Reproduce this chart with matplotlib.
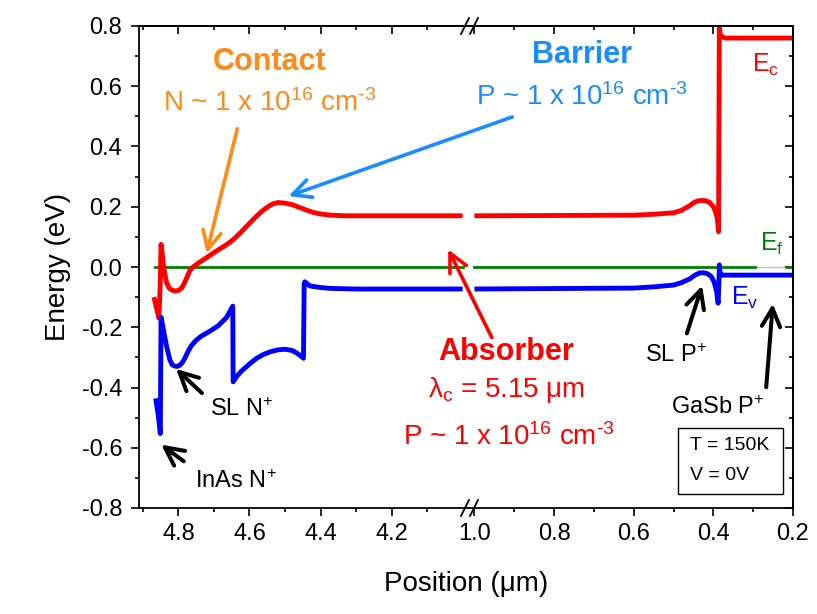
import numpy as np
import matplotlib
matplotlib.use("Agg")
import matplotlib.pyplot as plt
from matplotlib.patches import FancyArrowPatch, Rectangle
from matplotlib.lines import Line2D
from matplotlib.ticker import MultipleLocator, FixedLocator, NullFormatter, FuncFormatter

plt.rcParams['font.family'] = ['Liberation Sans', 'DejaVu Sans']
plt.rcParams['mathtext.fontset'] = 'custom'
plt.rcParams['mathtext.rm'] = 'Liberation Sans'
plt.rcParams['mathtext.default'] = 'regular'
plt.rcParams['axes.unicode_minus'] = False

# band edges near the contact side (position in um, energy in eV)
x_ec_left = [4.869, 4.862, 4.855, 4.851, 4.849, 4.846, 4.843, 4.838, 4.833, 4.826, 4.819,
             4.81, 4.80, 4.791, 4.784, 4.777, 4.768, 4.759, 4.739, 4.718, 4.697, 4.67, 4.655,
             4.641, 4.625, 4.60, 4.585, 4.565, 4.548, 4.535, 4.52, 4.50, 4.48, 4.46, 4.44,
             4.42, 4.40, 4.37, 4.33, 4.2, 4.0]
ec_left = [-0.10, -0.135, -0.17, -0.05, 0.075, 0.05, 0.013, -0.025, -0.053, -0.07, -0.076,
           -0.08, -0.078, -0.07, -0.055, -0.037, -0.012, 0.0, 0.017, 0.033, 0.05, 0.07, 0.082,
           0.096, 0.114, 0.145, 0.163, 0.185, 0.2, 0.209, 0.214, 0.212, 0.207, 0.198, 0.189,
           0.181, 0.176, 0.172, 0.170, 0.17, 0.17]

x_ev_left = [4.864, 4.857, 4.851, 4.849, 4.845, 4.839, 4.833, 4.824, 4.817, 4.81, 4.803,
             4.796, 4.789, 4.782, 4.772, 4.763, 4.75, 4.735, 4.71, 4.688, 4.665, 4.647,
             4.646, 4.635, 4.622, 4.60, 4.58, 4.56, 4.54, 4.52, 4.50, 4.48, 4.465, 4.455,
             4.448, 4.446, 4.444, 4.437, 4.43, 4.40, 4.373, 4.3, 4.0]
ev_left = [-0.436, -0.49, -0.553, -0.167, -0.19, -0.23, -0.265, -0.309, -0.325, -0.329, -0.33,
           -0.326, -0.317, -0.303, -0.278, -0.26, -0.243, -0.229, -0.212, -0.195, -0.168, -0.13,
           -0.381, -0.362, -0.345, -0.322, -0.303, -0.29, -0.281, -0.275, -0.273, -0.277, -0.287, -0.296,
           -0.303, -0.054, -0.049, -0.056, -0.063, -0.068, -0.071, -0.073, -0.073]

# band edges near the GaSb substrate side
x_ec_right = [1.0, 0.6, 0.55, 0.50, 0.48, 0.46, 0.45, 0.44, 0.43, 0.42, 0.41,
              0.40, 0.395, 0.39, 0.388, 0.387, 0.386, 0.385, 0.383, 0.38, 0.37, 0.2]
ec_right = [0.17, 0.172, 0.175, 0.18, 0.188, 0.203, 0.213, 0.219, 0.221, 0.22, 0.215,
            0.2, 0.185, 0.16, 0.13, 0.117, 0.45, 0.8, 0.775, 0.765, 0.76, 0.76]

x_ev_right = [1.0, 0.6, 0.55, 0.50, 0.48, 0.46, 0.446, 0.435, 0.425, 0.415, 0.405,
              0.398, 0.392, 0.388, 0.386, 0.385, 0.383, 0.38, 0.2]
ev_right = [-0.073, -0.07, -0.066, -0.06, -0.052, -0.04, -0.027, -0.02, -0.019, -0.022, -0.032,
            -0.05, -0.08, -0.12, -0.05, 0.007, -0.02, -0.027, -0.027]

x_ef_left = [4.866, 4.0]
x_ef_right = [1.0, 0.295]
x_ef_tail = [0.215, 0.2]
ef_level = 0.0

W, H = 817, 614


def px(x, y):
    # figure pixel position -> figure fraction
    return (x / W, 1 - y / H)


fig = plt.figure(figsize=(W / 100, H / 100), dpi=100)
x0, xb, x1 = 139, 469, 793
y_top, y_bot = 26, 508
ax1 = fig.add_axes([x0 / W, 1 - y_bot / H, (xb - x0) / W, (y_bot - y_top) / H])
ax2 = fig.add_axes([xb / W, 1 - y_bot / H, (x1 - xb) / W, (y_bot - y_top) / H])

lw_band = 3.5
ax1.plot(x_ef_left, [ef_level] * 2, color='#008000', lw=2.0)
ax1.plot(x_ec_left, ec_left, color='#FF0000', lw=lw_band, solid_capstyle='butt')
ax1.plot(x_ev_left, ev_left, color='#0000FF', lw=lw_band, solid_capstyle='butt')

ax2.plot(x_ef_right, [ef_level] * 2, color='#008000', lw=2.0)
ax2.plot([x_ef_right[1], x_ef_tail[0]], [ef_level] * 2, color='#008000', lw=1.0, alpha=0.35)
ax2.plot(x_ef_tail, [ef_level] * 2, color='#008000', lw=2.0)
ax2.plot(x_ec_right, ec_right, color='#FF0000', lw=lw_band, solid_capstyle='butt')
ax2.plot(x_ev_right, ev_right, color='#0000FF', lw=lw_band, solid_capstyle='butt')

ax1.set_xlim(4.911, 3.982)
ax2.set_xlim(1.0136, 0.2)
for ax in (ax1, ax2):
    ax.set_ylim(-0.8, 0.8)
    for s in ax.spines.values():
        s.set_linewidth(1.3)
ax1.spines['right'].set_visible(False)
ax2.spines['left'].set_visible(False)

tick_kw = dict(labelsize=17, width=1.2)
ax1.xaxis.set_major_locator(FixedLocator([4.8, 4.6, 4.4, 4.2]))
ax1.xaxis.set_minor_locator(FixedLocator([4.9, 4.7, 4.5, 4.3, 4.1]))
ax2.xaxis.set_major_locator(FixedLocator([1.0, 0.8, 0.6, 0.4, 0.2]))
ax2.xaxis.set_minor_locator(FixedLocator([0.9, 0.7, 0.5, 0.3]))
ax1.yaxis.set_major_locator(MultipleLocator(0.2))
ax1.yaxis.set_minor_locator(MultipleLocator(0.1))
ax1.yaxis.set_major_formatter(FuncFormatter(lambda v, p: f'{v:.1f}'))
ax1.tick_params(axis='both', which='major', direction='out', length=6, pad=5, **tick_kw)
ax1.tick_params(axis='both', which='minor', direction='out', length=3, width=1.2)
ax1.tick_params(axis='y', pad=6)
ax2.tick_params(axis='x', which='major', direction='out', length=6, pad=5, **tick_kw)
ax2.tick_params(axis='x', which='minor', direction='out', length=3, width=1.2)
ax2.tick_params(axis='y', which='both', left=False, labelleft=False)

# mirrored ticks pointing inward on the top and right edges
for ax in (ax1, ax2):
    top = ax.secondary_xaxis('top')
    top.xaxis.set_major_locator(FixedLocator(ax.xaxis.get_majorticklocs()))
    top.xaxis.set_minor_locator(FixedLocator(ax.xaxis.get_minorticklocs()))
    top.tick_params(which='major', direction='in', length=6, width=1.2, labeltop=False)
    top.tick_params(which='minor', direction='in', length=3, width=1.2)
    top.xaxis.set_major_formatter(NullFormatter())
    top.spines['top'].set_linewidth(1.3)
right = ax2.secondary_yaxis('right')
right.yaxis.set_major_locator(MultipleLocator(0.2))
right.yaxis.set_minor_locator(MultipleLocator(0.1))
right.tick_params(which='major', direction='in', length=6, width=1.2, labelright=False)
right.tick_params(which='minor', direction='in', length=3, width=1.2)
right.yaxis.set_major_formatter(NullFormatter())
right.spines['right'].set_linewidth(1.3)

ax1.set_ylabel('Energy (eV)', fontsize=20, labelpad=8)
fig.text(*px(466, 584), 'Position (μm)', fontsize=20, ha='center', va='center')

# axis break marks
for yb in (y_bot, y_top):
    for xs in (465, 474):
        fig.add_artist(Line2D([(xs - 4) / W, (xs + 4) / W],
                              [1 - (yb + 8) / H, 1 - (yb - 8) / H],
                              color='black', lw=1.3))

orange = '#FF8A18'
sky = '#1A8CFF'
red = '#FF0000'
arrow_kw = dict(arrowstyle='->,head_length=0.6,head_width=0.3', mutation_scale=22,
                transform=fig.transFigure)


def arrow(tail, tip, color, lw=2.6):
    fig.add_artist(FancyArrowPatch(px(*tail), px(*tip), color=color, lw=lw, **arrow_kw))


dop = r'1 x 10$^{16}$ cm$^{\text{-3}}$'

fig.text(*px(270, 62), 'Contact', color=orange, fontsize=22, fontweight='bold', ha='center', va='center')
fig.text(*px(270, 103), 'N ~ ' + dop, color=orange, fontsize=20, ha='center', va='center')
arrow((238, 126), (206, 256), orange)

fig.text(*px(582, 55), 'Barrier', color=sky, fontsize=22, fontweight='bold', ha='center', va='center')
fig.text(*px(582, 97), 'P ~ ' + dop, color=sky, fontsize=20, ha='center', va='center')
arrow((515, 116), (286, 197), sky)

fig.text(*px(506, 352), 'Absorber', color=red, fontsize=22, fontweight='bold', ha='center', va='center')
fig.text(*px(507, 390), 'λ$_{c}$ = 5.15 μm', color=red, fontsize=20, ha='center', va='center')
fig.text(*px(509, 437), 'P ~ ' + dop, color=red, fontsize=20, ha='center', va='center')
arrow((493, 340), (447, 247), red)

fig.text(*px(752, 72), 'E$_{c}$', color=red, fontsize=18, ha='left', va='baseline')
fig.text(*px(760, 251), 'E$_{f}$', color='#008000', fontsize=18, ha='left', va='baseline')
fig.text(*px(731, 305), 'E$_{v}$', color='#0000FF', fontsize=18, ha='left', va='baseline')

fig.text(*px(242, 410), 'SL N$^{+}$', fontsize=17, ha='center', va='center')
arrow((204, 395), (174, 367), 'black', 2.9)
fig.text(*px(236, 482), 'InAs N$^{+}$', fontsize=17, ha='center', va='center')
arrow((186, 463), (159, 443), 'black', 2.9)
fig.text(*px(676, 356), 'SL P$^{+}$', fontsize=17, ha='center', va='center')
arrow((686, 336), (703, 283), 'black', 2.9)
fig.text(*px(718, 408), 'GaSb P$^{+}$', fontsize=17, ha='center', va='center')
arrow((766, 390), (773, 301), 'black', 2.9)

fig.add_artist(Rectangle(px(678, 494), 105 / W, 66 / H, transform=fig.transFigure,
                         fill=False, edgecolor='black', lw=1.0))
fig.text(*px(690, 445), 'T = 150K', fontsize=14, ha='left', va='center')
fig.text(*px(690, 475), 'V = 0V', fontsize=14, ha='left', va='center')

fig.savefig('out.png', dpi=100)
